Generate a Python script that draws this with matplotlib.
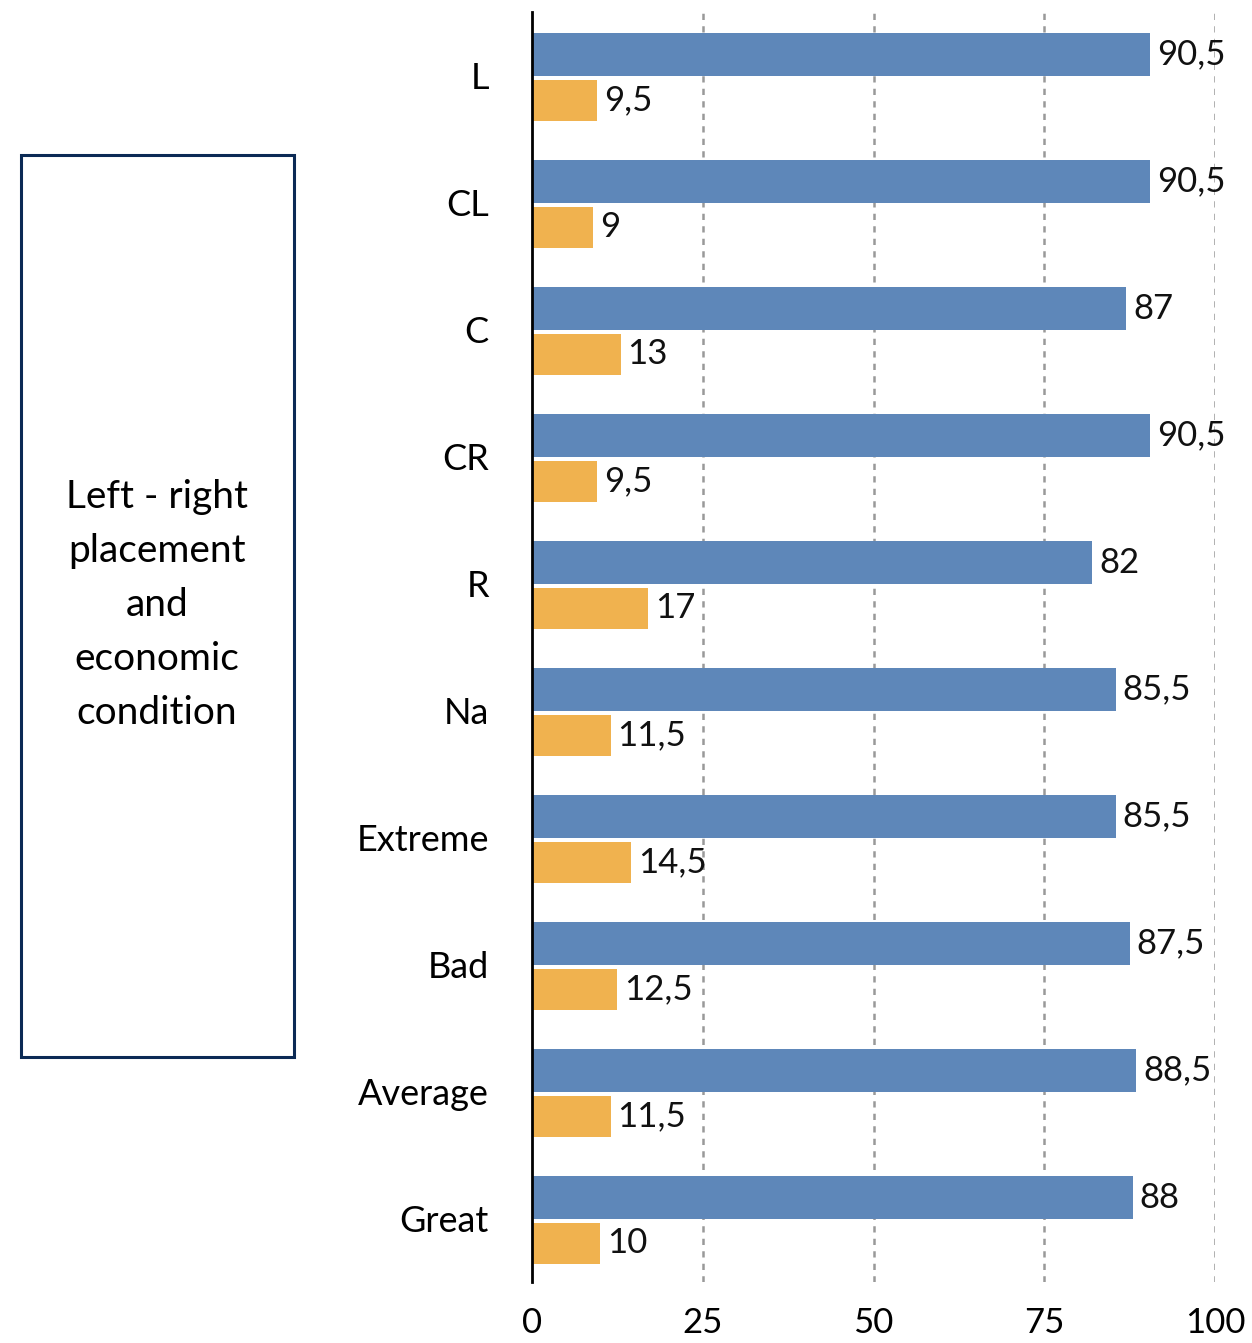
import numpy as np
import matplotlib.pyplot as plt
from matplotlib.patches import Rectangle

categories = ["L", "CL", "C", "CR", "R", "Na", "Extreme", "Bad", "Average", "Great"]
blue_vals = [90.5, 90.5, 87, 90.5, 82, 85.5, 85.5, 87.5, 88.5, 88]
orange_vals = [9.5, 9, 13, 9.5, 17, 11.5, 14.5, 12.5, 11.5, 10]
xticks = [0, 25, 50, 75, 100]

plt.rcParams['font.family'] = ['Lato', 'DejaVu Sans']

def fmt(v):
    s = ("%g" % v)
    return s.replace(".", ",")

fig = plt.figure(figsize=(12.52, 13.43), dpi=100)
ax = fig.add_axes([532 / 1252, 1 - 1282 / 1343, 683 / 1252, 1270 / 1343])

y = np.arange(len(categories))
bb = ax.barh(y - 0.165, blue_vals, height=0.34, color="#5E87B9", zorder=3)
ob = ax.barh(y + 0.195, orange_vals, height=0.32, color="#F0B24F", zorder=3)

for rect, v in zip(bb, blue_vals):
    ax.text(v + 1.0, rect.get_y() + rect.get_height() / 2, fmt(v),
            va="center", ha="left", fontsize=25, color="#111111")
for rect, v in zip(ob, orange_vals):
    ax.text(v + 1.0, rect.get_y() + rect.get_height() / 2, fmt(v),
            va="center", ha="left", fontsize=25, color="#111111")

ax.set_xlim(0, 100)
ax.set_ylim(len(categories) - 0.5, -0.5)
ax.set_yticks(y)
ax.set_yticklabels(categories, fontsize=26)
ax.set_xticks(xticks)
ax.set_xticklabels([str(t) for t in xticks], fontsize=25)
ax.tick_params(axis="y", length=0, pad=31)
ax.tick_params(axis="x", length=0, pad=18)

for t in xticks[1:]:
    ax.axvline(t, color="#999999", linestyle=(0, (2.5, 2.5)), linewidth=1.8, zorder=1)

for s in ["top", "right", "bottom"]:
    ax.spines[s].set_visible(False)
ax.spines["left"].set_linewidth(2)
ax.spines["left"].set_color("black")
ax.spines["left"].set_zorder(4)

# box on the left
fig.patches.append(Rectangle((21 / 1252, 1 - 1057 / 1343), 273 / 1252, 902 / 1343,
                             transform=fig.transFigure, fill=False,
                             edgecolor="#0B2A55", linewidth=2.2))
fig.text(157 / 1252, 1 - 605 / 1343, "Left - right\nplacement\nand\neconomic\ncondition",
         ha="center", va="center", fontsize=28, linespacing=1.62)

fig.savefig("out.png", dpi=100)
